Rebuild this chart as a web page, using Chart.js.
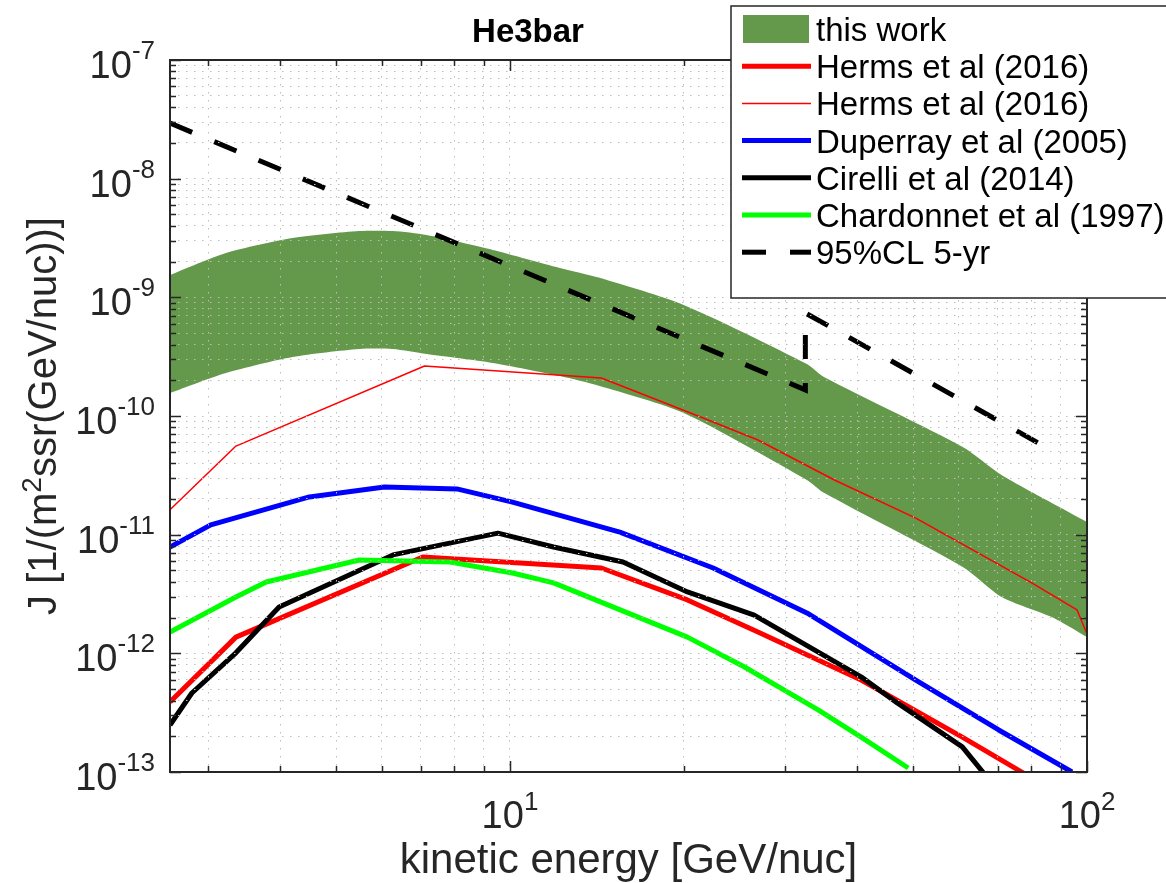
<!DOCTYPE html>
<html>
<head>
<meta charset="utf-8">
<title>He3bar</title>
<script src="https://cdn.jsdelivr.net/npm/chart.js@4.4.1/dist/chart.umd.min.js"></script>
<style>
  html, body { margin: 0; padding: 0; background: #fff; }
  #wrap { width: 1166px; height: 883px; }
</style>
</head>
<body>
<div id="wrap"><canvas id="he3-chart" width="1166" height="883"></canvas></div>
<script>
// axis ranges
const xMin = 2.575, xMax = 100;
const yMin = 1e-13, yMax = 1e-7;

// tick positions (log axes, major + minor) and the labelled decades
const xTickVals = [3, 4, 5, 6, 7, 8, 9, 10, 20, 30, 40, 50, 60, 70, 80, 90, 100];
const xLabelVals = [10, 100];
const xLabelExps = ["1", "2"];
const yDecades = [-13, -12, -11, -10, -9, -8];
const yMantissas = [1, 2, 3, 4, 5, 6, 7, 8, 9];
const yLabelVals = [1e-13, 1e-12, 1e-11, 1e-10, 1e-9, 1e-8, 1e-7];
const yLabelExps = ["-13", "-12", "-11", "-10", "-9", "-8", "-7"];

// this work (band)
const bandE     = [2.575, 3.22, 4.2, 5.48, 6.26, 7.17, 9.34, 12.2, 14.3, 20, 32.7, 35, 60.9, 71.1, 86.9, 100];
const bandUpper = [1.54e-9, 2.36e-9, 3.16e-9, 3.62e-9, 3.62e-9, 3.35e-9, 2.51e-9, 1.77e-9, 1.46e-9, 8.62e-10, 2.74e-10, 2.13e-10, 5.48e-11, 3.18e-11, 1.85e-11, 1.28e-11];
const bandLower = [1.56e-10, 2.30e-10, 3.14e-10, 3.67e-10, 3.67e-10, 3.33e-10, 2.80e-10, 2.17e-10, 1.79e-10, 1.06e-10, 2.89e-11, 2.25e-11, 5.34e-12, 2.99e-12, 2.02e-12, 1.37e-12];

// Herms et al (2016), thick
const hermsThickE = [2.575, 3.35, 7.06, 14.4, 20.3, 26.9, 40.6, 60.8, 77.6];
const hermsThickJ = [3.89e-13, 1.37e-12, 6.49e-12, 5.24e-12, 2.82e-12, 1.51e-12, 5.96e-13, 1.97e-13, 9.8e-14];

// Herms et al (2016), thin
const hermsThinE = [2.575, 3.35, 7.11, 14.4, 21.4, 26.9, 36.5, 50.5, 80.2, 96.1, 100];
const hermsThinJ = [1.62e-11, 5.58e-11, 2.64e-10, 2.09e-10, 9.82e-11, 6.28e-11, 2.89e-11, 1.38e-11, 3.92e-12, 2.32e-12, 1.46e-12];

// Duperray et al (2005)
const duperrayE = [2.575, 3.03, 4.49, 6.06, 8.09, 10.1, 15.5, 22.5, 32.7, 50.5, 70.3, 94.2];
const duperrayJ = [7.87e-12, 1.21e-11, 2.08e-11, 2.52e-11, 2.43e-11, 1.88e-11, 1.05e-11, 5.24e-12, 2.19e-12, 5.96e-13, 2.26e-13, 1.0e-13];

// Cirelli et al (2014)
const cirelliE = [2.575, 2.81, 3.35, 3.98, 6.27, 9.53, 11.9, 15.7, 20.3, 26.5, 40.6, 46.9, 60.8, 66.2];
const cirelliJ = [2.49e-13, 4.63e-13, 1.01e-12, 2.46e-12, 6.75e-12, 1.03e-11, 7.87e-12, 5.89e-12, 3.29e-12, 2.10e-12, 6.33e-13, 3.82e-13, 1.63e-13, 9.8e-14];

// Chardonnet et al (1997)
const chardonnetE = [2.575, 3.35, 3.78, 5.48, 7.87, 10.1, 11.9, 20.3, 25.5, 34.2, 40.6, 49.0];
const chardonnetJ = [1.51e-12, 2.98e-12, 3.99e-12, 6.12e-12, 5.89e-12, 4.75e-12, 3.92e-12, 1.37e-12, 7.67e-13, 3.34e-13, 1.97e-13, 1.08e-13];

// 95%CL 5-yr sensitivity (two pieces joined by a vertical step)
const clE = [2.575, 32.5, 32.5, 86.5];
const clJ = [2.94e-8, 1.66e-10, 7.38e-10, 5.18e-11];

const bandColor = "rgb(100,152,74)";
const axisColor = "#262626";
const fontFamily = "'Liberation Sans', Arial, Helvetica, sans-serif";

function pts(xs, ys) {
  return xs.map((x, i) => ({ x: x, y: ys[i] }));
}

const yTickVals = [];
yDecades.forEach(d => yMantissas.forEach(m => yTickVals.push(m * Math.pow(10, d))));
yTickVals.push(yMax);

// draws "base^exp" with a raised smaller exponent
function drawPow(ctx, base, exp, x, y, align, baseSize, supSize, rise) {
  ctx.font = `${baseSize}px ${fontFamily}`;
  const wb = ctx.measureText(base).width;
  ctx.font = `${supSize}px ${fontFamily}`;
  const we = ctx.measureText(exp).width;
  let sx = x;
  if (align === "right") sx = x - wb - we;
  else if (align === "center") sx = x - (wb + we) / 2;
  ctx.textAlign = "left";
  ctx.textBaseline = "alphabetic";
  ctx.font = `${baseSize}px ${fontFamily}`;
  ctx.fillText(base, sx, y);
  ctx.font = `${supSize}px ${fontFamily}`;
  ctx.fillText(exp, sx + wb, y - rise);
}

const matlabAxes = {
  id: "matlabAxes",
  afterDraw(chart) {
    const ctx = chart.ctx;
    const { left, right, top, bottom } = chart.chartArea;
    const xs = chart.scales.x;
    const ys = chart.scales.y;
    ctx.save();

    // inward ticks on all four sides
    ctx.strokeStyle = axisColor;
    ctx.lineWidth = 1.5;
    ctx.beginPath();
    xTickVals.forEach(v => {
      const px = Math.round(xs.getPixelForValue(v)) + 0.5;
      const len = xLabelVals.includes(v) ? 11 : 6;
      ctx.moveTo(px, bottom); ctx.lineTo(px, bottom - len);
      ctx.moveTo(px, top); ctx.lineTo(px, top + len);
    });
    yTickVals.forEach(v => {
      const py = Math.round(ys.getPixelForValue(v)) + 0.5;
      const major = yLabelVals.some(l => Math.abs(l / v - 1) < 1e-6);
      const len = major ? 11 : 6;
      ctx.moveTo(left, py); ctx.lineTo(left + len, py);
      ctx.moveTo(right, py); ctx.lineTo(right - len, py);
    });
    ctx.stroke();
    ctx.lineWidth = 2;
    ctx.strokeRect(left, top, right - left, bottom - top);

    // tick labels
    ctx.fillStyle = axisColor;
    xLabelVals.forEach((v, i) => {
      drawPow(ctx, "10", xLabelExps[i], xs.getPixelForValue(v), bottom + 56, "center", 38, 26, 18);
    });
    yLabelVals.forEach((v, i) => {
      drawPow(ctx, "10", yLabelExps[i], left - 15, ys.getPixelForValue(v) + 18, "right", 38, 26, 19);
    });

    // axis titles
    ctx.font = `42px ${fontFamily}`;
    ctx.textAlign = "center";
    ctx.textBaseline = "alphabetic";
    ctx.fillText("kinetic energy [GeV/nuc]", (left + right) / 2, 873);

    ctx.save();
    ctx.translate(56, (top + bottom) / 2);
    ctx.rotate(-Math.PI / 2);
    const p1 = "J [1/(m", p2 = "2", p3 = "ssr(GeV/nuc))]";
    ctx.font = `40px ${fontFamily}`;
    const w1 = ctx.measureText(p1).width, w3 = ctx.measureText(p3).width;
    ctx.font = `28px ${fontFamily}`;
    const w2 = ctx.measureText(p2).width;
    let sx = -(w1 + w2 + w3) / 2;
    ctx.textAlign = "left";
    ctx.font = `40px ${fontFamily}`;
    ctx.fillText(p1, sx, 0);
    ctx.font = `28px ${fontFamily}`;
    ctx.fillText(p2, sx + w1, -15);
    ctx.font = `40px ${fontFamily}`;
    ctx.fillText(p3, sx + w1 + w2, 0);
    ctx.restore();

    // title
    ctx.fillStyle = "#000";
    ctx.font = `bold 33px ${fontFamily}`;
    ctx.textAlign = "center";
    ctx.fillText("He3bar", 528, 42);

    // legend box
    const lx = 731, ly = 6, lw = 520, lh = 292;
    ctx.fillStyle = "#fff";
    ctx.fillRect(lx, ly, lw, lh);
    ctx.strokeStyle = axisColor;
    ctx.lineWidth = 1.5;
    ctx.strokeRect(lx, ly, lw, lh);

    const entries = chart.data.datasets.filter(d => d.label);
    entries.forEach((d, i) => {
      const ry = 29 + i * 37.2;
      if (d.fill !== false && d.fill !== undefined) {
        ctx.fillStyle = d.backgroundColor;
        ctx.fillRect(743, ry - 14, 66, 28);
      } else {
        ctx.save();
        ctx.strokeStyle = d.borderColor;
        ctx.lineWidth = d.borderWidth;
        ctx.setLineDash(d.borderDash || []);
        ctx.beginPath();
        ctx.moveTo(742, ry);
        ctx.lineTo(811, ry);
        ctx.stroke();
        ctx.restore();
      }
      ctx.fillStyle = "#000";
      ctx.font = `33px ${fontFamily}`;
      ctx.textAlign = "left";
      ctx.textBaseline = "alphabetic";
      ctx.fillText(d.label, 816, ry + 12);
    });

    ctx.restore();
  }
};

const lineDefaults = {
  pointRadius: 0,
  fill: false,
  borderJoinStyle: "round",
  tension: 0
};

const ctx = document.getElementById("he3-chart").getContext("2d");
const chart = new Chart(ctx, {
  type: "line",
  data: {
    datasets: [
      {
        label: "this work",
        data: pts(bandE, bandUpper),
        borderWidth: 0,
        borderColor: bandColor,
        backgroundColor: bandColor,
        pointRadius: 0,
        fill: 1,
        tension: 0.25,
        order: 7
      },
      {
        label: "",
        data: pts(bandE, bandLower),
        borderWidth: 0,
        borderColor: bandColor,
        pointRadius: 0,
        fill: false,
        tension: 0.25,
        order: 7
      },
      Object.assign({}, lineDefaults, {
        label: "Herms et al (2016)",
        data: pts(hermsThickE, hermsThickJ),
        borderColor: "#ff0000",
        borderWidth: 5,
        order: 6
      }),
      Object.assign({}, lineDefaults, {
        label: "Herms et al (2016)",
        data: pts(hermsThinE, hermsThinJ),
        borderColor: "#ff0000",
        borderWidth: 1.5,
        order: 5
      }),
      Object.assign({}, lineDefaults, {
        label: "Duperray et al (2005)",
        data: pts(duperrayE, duperrayJ),
        borderColor: "#0000ff",
        borderWidth: 5,
        order: 4
      }),
      Object.assign({}, lineDefaults, {
        label: "Cirelli et al (2014)",
        data: pts(cirelliE, cirelliJ),
        borderColor: "#000000",
        borderWidth: 5,
        order: 3
      }),
      Object.assign({}, lineDefaults, {
        label: "Chardonnet et al (1997)",
        data: pts(chardonnetE, chardonnetJ),
        borderColor: "#00ff00",
        borderWidth: 5,
        order: 2
      }),
      Object.assign({}, lineDefaults, {
        label: "95%CL 5-yr",
        data: pts(clE, clJ),
        borderColor: "#000000",
        borderWidth: 5,
        borderDash: [24, 24],
        borderJoinStyle: "miter",
        order: 1
      })
    ]
  },
  options: {
    responsive: false,
    devicePixelRatio: 1,
    animation: false,
    events: [],
    layout: { padding: { left: 170, right: 79, top: 60, bottom: 111 } },
    plugins: {
      legend: { display: false },
      tooltip: { enabled: false },
      title: { display: false }
    },
    scales: {
      x: {
        type: "logarithmic",
        min: xMin,
        max: xMax,
        afterBuildTicks: (scale) => { scale.ticks = xTickVals.map(v => ({ value: v })); },
        ticks: { display: false },
        grid: { color: "#bdbdbd", lineWidth: 1, drawTicks: false, z: 1 },
        border: { display: false, dash: [1.5, 6.5] }
      },
      y: {
        type: "logarithmic",
        min: yMin,
        max: yMax,
        afterBuildTicks: (scale) => { scale.ticks = yTickVals.map(v => ({ value: v })); },
        ticks: { display: false },
        grid: { color: "#bdbdbd", lineWidth: 1, drawTicks: false, z: 1 },
        border: { display: false, dash: [1.5, 6.5] }
      }
    }
  },
  plugins: [matlabAxes]
});
</script>
</body>
</html>
